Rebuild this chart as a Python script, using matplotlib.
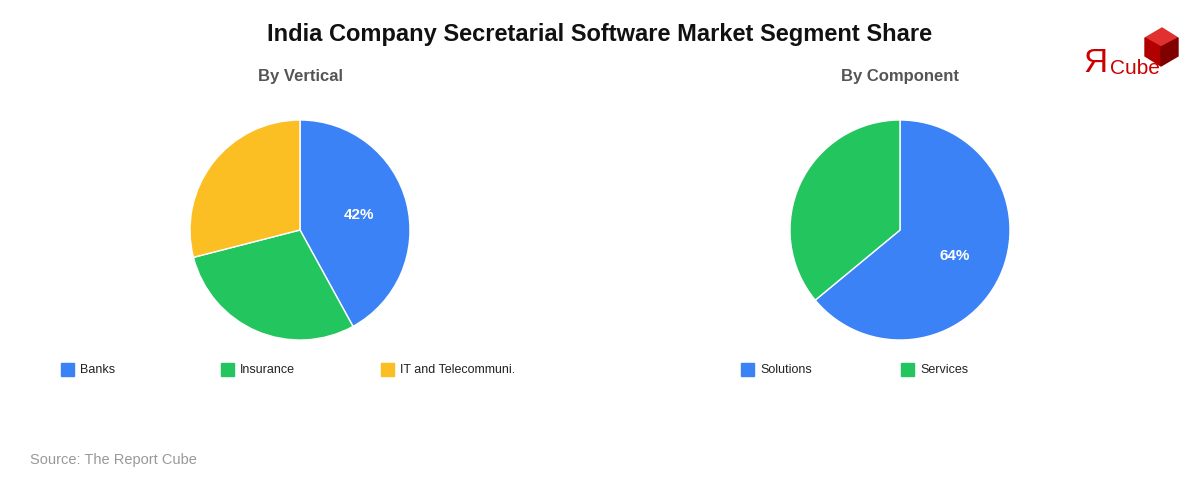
import matplotlib.pyplot as plt
from matplotlib.patches import Rectangle, Polygon

plt.rcParams['font.family'] = ['Liberation Sans', 'DejaVu Sans']

vertical_labels = ["Banks", "Insurance", "IT and Telecommuni."]
vertical_values = [42, 29, 29]
component_labels = ["Solutions", "Services"]
component_values = [64, 36]
colors = ["#3b82f6", "#22c55e", "#fbbf24"]

W, H = 1200, 480
fig = plt.figure(figsize=(12, 4.8), dpi=100)

fig.text(0.5, 1 - 34 / H, "India Company Secretarial Software Market Segment Share",
         ha="center", va="center", fontsize=17, fontweight="bold", color="#111111")

# logo: small red cube plus text
def P(pts, c):
    fig.patches.append(Polygon([(x / W, 1 - y / H) for x, y in pts], closed=True,
                               transform=fig.transFigure, color=c))
P([(1145, 38), (1162, 28), (1178, 38), (1161, 47)], "#e03030")
P([(1145, 38), (1161, 47), (1161, 66), (1145, 56)], "#b00000")
P([(1161, 47), (1178, 38), (1178, 56), (1161, 66)], "#800000")
fig.text(1 - 40 / W, 1 - 68 / H, "Cube", ha="right", va="center", fontsize=15, color="#cc0000")
fig.text(1 - 92 / W, 1 - 64 / H, "Я", ha="right", va="center", fontsize=24, color="#cc0000")

fig.text(30 / W, 1 - 460 / H, "Source: The Report Cube", ha="left", va="center",
         fontsize=10.5, color="#999999")


def draw(cx, title, labels, values, legend_x):
    r = 110
    ax = fig.add_axes([(cx - r) / W, (H - 230 - r) / H, 2 * r / W, 2 * r / H])
    mx = max(values)
    ax.pie(values, colors=colors[:len(values)], startangle=90, counterclock=False,
           wedgeprops=dict(edgecolor="white", linewidth=1),
           autopct=lambda p: f"{p:.0f}%" if abs(p - mx) < 0.5 else "",
           pctdistance=0.55, textprops=dict(color="white", fontsize=11, fontweight="bold"))
    ax.set_xlim(-1, 1)
    ax.set_ylim(-1, 1)
    ax.set_aspect("auto")
    fig.text(cx / W, 1 - 77 / H, title, ha="center", va="center", fontsize=12,
             fontweight="bold", color="#555555")
    for i, lab in enumerate(labels):
        x = legend_x + i * 160
        fig.patches.append(Rectangle((x / W, (H - 376) / H), 13 / W, 13 / H,
                                     transform=fig.transFigure, color=colors[i]))
        fig.text((x + 19) / W, 1 - 370 / H, lab, ha="left", va="center",
                 fontsize=9, color="#222222")


draw(300, "By Vertical", vertical_labels, vertical_values, 61)
draw(900, "By Component", component_labels, component_values, 741)

fig.savefig("out.png", dpi=100, facecolor="white")
